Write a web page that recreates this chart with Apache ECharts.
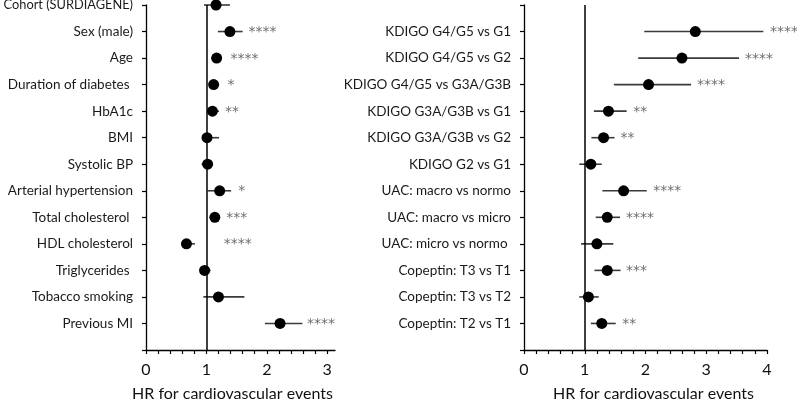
<!DOCTYPE html>
<html><head><meta charset="utf-8">
<script src="https://cdn.jsdelivr.net/npm/echarts@6/dist/echarts.min.js"></script>
<style>html,body{margin:0;padding:0;background:#fff}#c{width:797px;height:400px}</style>
</head><body><div id="c"></div>
<script>
// ---------- Left panel data (top to bottom) ----------
const leftCats = ['Cohort (SURDIAGENE)','Sex (male)','Age','Duration of diabetes ','HbA1c','BMI','Systolic BP','Arterial hypertension','Total cholesterol ','HDL cholesterol','Triglycerides ','Tobacco smoking','Previous MI'];
const leftHR   = [1.16,1.39,1.17,1.12,1.10,1.01,1.02,1.22,1.14,0.67,0.97,1.20,2.22];
const leftLo   = [0.96,1.19,1.08,1.06,1.02,0.93,0.92,1.02,1.06,0.58,0.89,0.95,1.97];
const leftHi   = [1.39,1.60,1.23,1.21,1.21,1.21,1.08,1.41,1.22,0.81,1.07,1.63,2.59];
const leftStars    = ['','****','****','*','**','','','*','***','****','','','****'];
const leftStarPos  = [0,1.69,1.39,1.34,1.30,0,0,1.52,1.32,1.28,0,0,2.66];

// ---------- Right panel data (top to bottom) ----------
const rightCats = ['KDIGO G4/G5 vs G1','KDIGO G4/G5 vs G2','KDIGO G4/G5 vs G3A/G3B','KDIGO G3A/G3B vs G1','KDIGO G3A/G3B vs G2','KDIGO G2 vs G1','UAC: macro vs normo','UAC: macro vs micro','UAC: micro vs normo ','Copeptin: T3 vs T1','Copeptin: T3 vs T2','Copeptin: T2 vs T1'];
const rightHR   = [2.82,2.60,2.05,1.39,1.31,1.10,1.64,1.37,1.20,1.37,1.06,1.28];
const rightLo   = [1.98,1.88,1.48,1.15,1.11,0.91,1.29,1.18,0.94,1.16,0.91,1.10];
const rightHi   = [3.94,3.54,2.75,1.69,1.49,1.28,2.02,1.58,1.47,1.59,1.23,1.51];
const rightStars   = ['****','****','****','**','**','','****','****','','***','','**'];
const rightStarPos = [4.04,3.63,2.84,1.79,1.58,0,2.12,1.67,0,1.67,0,1.61];

// ---------- Axis ticks ----------
const leftTickVals  = [0,0.2,0.4,0.6,0.8,1,1.2,1.4,1.6,1.8,2,2.2,2.4,2.6,2.8,3];
const leftLabelVals = [0,1,2,3];
const rightTickVals = [0,0.2,0.4,0.6,0.8,1,1.2,1.4,1.6,1.8,2,2.2,2.4,2.6,2.8,3,3.2,3.4,3.6,3.8,4];
const rightLabelVals= [0,1,2,3,4];
const xTitle = 'HR for cardiovascular events';

const FONT = 'Lato';
const axisCatsLeft  = [''].concat(leftCats.slice().reverse());
const rightAxis = [''].concat(rightCats.slice().reverse()).concat(['']);

function errSeries(cats, lo, hi, xi, yi) {
  return {
    type: 'custom', xAxisIndex: xi, yAxisIndex: yi, clip: false,
    data: cats.map((c, i) => [lo[i], hi[i], c]),
    encode: { x: [0, 1], y: 2 },
    renderItem: function (params, api) {
      const y = api.value(2);
      const p1 = api.coord([api.value(0), y]);
      const p2 = api.coord([api.value(1), y]);
      return { type: 'line', shape: { x1: p1[0], y1: p1[1], x2: p2[0], y2: p2[1] },
               style: { stroke: '#3a3a3a', lineWidth: 1.6 } };
    }, z: 2
  };
}
function dotSeries(cats, hr, xi, yi) {
  return {
    type: 'scatter', xAxisIndex: xi, yAxisIndex: yi, symbol: 'circle', symbolSize: 11,
    itemStyle: { color: '#000', opacity: 1 }, z: 3,
    data: cats.map((c, i) => [hr[i], c]),
    markLine: { silent: true, symbol: 'none', label: { show: false },
      lineStyle: { color: '#000', width: 1.5, type: 'solid', opacity: 1 }, data: [{ xAxis: 1 }] }
  };
}
function starSeries(cats, stars, pos, xi, yi) {
  const d = [];
  cats.forEach((c, i) => { if (stars[i]) d.push([pos[i], c, stars[i]]); });
  return {
    type: 'scatter', xAxisIndex: xi, yAxisIndex: yi, symbolSize: 1, clip: false,
    itemStyle: { color: 'rgba(0,0,0,0)' }, data: d, z: 4,
    label: { show: true, position: 'right', distance: 0, offset: [0, 1],
      formatter: p => p.data[2], color: '#4a4a4a', fontFamily: 'DejaVu Sans', fontSize: 14 }
  };
}
function xAxisCfg(gi, max, ticks, labels, shift) {
  return {
    type: 'value', gridIndex: gi, min: 0, max: max,
    axisLine: { show: true, lineStyle: { color: '#000', width: 1.3 } },
    axisTick: { show: true, length: 4, customValues: ticks, lineStyle: { color: '#000', width: 1.2 } },
    axisLabel: { customValues: labels, margin: 12, color: '#111', fontFamily: FONT, fontSize: 16 },
    splitLine: { show: false },
    name: xTitle, nameLocation: 'middle', nameGap: 36,
    nameTextStyle: { color: '#111', fontFamily: FONT, fontSize: 16,
      padding: shift < 0 ? [0, -2 * shift, 0, 0] : [0, 0, 0, 2 * shift] }
  };
}
function yAxisCfg(gi, data) {
  return {
    type: 'category', gridIndex: gi, data: data, boundaryGap: false,
    axisLine: { show: true, lineStyle: { color: '#000', width: 1.3 } },
    axisTick: { show: true, length: 4, lineStyle: { color: '#000', width: 1.2 } },
    axisLabel: { margin: 13, color: '#1a1a1a', fontFamily: FONT, fontSize: 13.5, interval: 0,
      formatter: v => v.length > 18 && v === v.replace(/[a-z]{3,}/, '') ? v : (v.indexOf('SURDIAGENE') >= 0 ? '{s|' + v + '}' : v),
      rich: { s: { fontFamily: FONT, fontSize: 12.8, color: '#1a1a1a' } } },
    splitLine: { show: false }
  };
}

const chart = echarts.init(document.getElementById('c'), null, { renderer: 'canvas' });
chart.setOption({
  animation: false,
  backgroundColor: '#fff',
  grid: [
    { left: 146, top: 5, width: 189, height: 345, outerBoundsMode: 'none', containLabel: false },
    { left: 524, top: 5, width: 243, height: 345, outerBoundsMode: 'none', containLabel: false }
  ],
  xAxis: [ xAxisCfg(0, 3.13, leftTickVals, leftLabelVals, -8), xAxisCfg(1, 4, rightTickVals, rightLabelVals, 8) ],
  yAxis: [ yAxisCfg(0, axisCatsLeft), yAxisCfg(1, rightAxis) ],
  series: [
    errSeries(leftCats, leftLo, leftHi, 0, 0),
    dotSeries(leftCats, leftHR, 0, 0),
    starSeries(leftCats, leftStars, leftStarPos, 0, 0),
    errSeries(rightCats, rightLo, rightHi, 1, 1),
    dotSeries(rightCats, rightHR, 1, 1),
    starSeries(rightCats, rightStars, rightStarPos, 1, 1)
  ]
});
</script></body></html>
